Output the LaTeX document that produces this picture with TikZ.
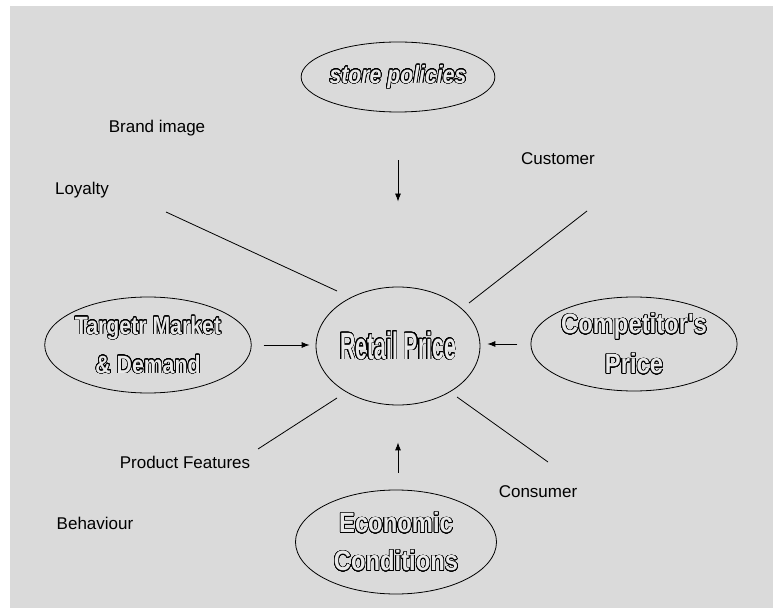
\documentclass[tikz,border=0pt]{standalone}
\usepackage{fontspec}
\setmainfont{Liberation Sans}
\newfontfamily\boxfont[FakeStretch=0.85]{Liberation Sans}
\newfontfamily\pricefont[FakeStretch=0.56]{Liberation Sans}
\usepackage{contour}
\contourlength{0.65pt}
\contournumber{32}
\usetikzlibrary{arrows.meta,shapes.geometric}
\definecolor{bggray}{RGB}{218,218,218}
\definecolor{fillgray}{RGB}{232,232,232}
\newcommand{\hollow}[1]{\contour{black}{\textcolor{fillgray}{#1}}}

\begin{document}
\begin{tikzpicture}[x=1pt, y=1pt, font=\fontsize{17}{20}\selectfont]
\tikzset{factor/.style={draw, ellipse, line width=0.8pt, inner sep=0pt, align=center}}
\tikzset{link/.style={line width=0.8pt}}
\tikzset{>={Latex[width=6pt,length=8pt]}}
\useasboundingbox (0,0) rectangle (776,608);
\fill[bggray] (10,0) rectangle (773,602);
\node[factor, minimum width=190pt, minimum height=70pt, font=\boxfont\bfseries\itshape\fontsize{25}{30}\selectfont] (store) at (398,531) {\hollow{store policies}};
\node[factor, minimum width=127pt, minimum height=118pt, font=\pricefont\bfseries\fontsize{38}{44}\selectfont] (retail) at (398,262) {\hollow{Retail Price}};
\node[factor, minimum width=200pt, minimum height=96pt, font=\boxfont\bfseries\fontsize{25}{39}\selectfont] (target) at (148,263) {\hollow{Targetr Market}\\ \hollow{\& Demand}};
\node[factor, minimum width=198pt, minimum height=94pt, font=\boxfont\bfseries\fontsize{28}{40}\selectfont] (comp) at (634,264) {\hollow{Competitor's}\\ \hollow{Price}};
\node[factor, minimum width=201pt, minimum height=104pt, font=\boxfont\bfseries\fontsize{28}{38}\selectfont] (econ) at (396,66) {\hollow{Economic}\\ \hollow{Conditions}};
\node (brand) at (157,480) {Brand image};
\node (loyal) at (82,418) {Loyalty};
\node (cust) at (558,449) {Customer};
\node (prodf) at (185,146) {Product Features};
\node (behav) at (95,85) {Behaviour};
\node (cons) at (538,116) {Consumer};
\path[->, link, shorten <=48pt, shorten >=85pt] (store.south) edge (retail.north);
\path[->, link, shorten <=17pt, shorten >=37pt] (retail.south |- econ.north) edge (retail.south);
\path[->, link, shorten <=12pt, shorten >=6pt] (target.east) edge (target.east -| retail.west);
\path[->, link, shorten <=13pt, shorten >=7pt] (comp.west) edge (comp.west -| retail.east);
\coordinate (loyA) at (166,396);
\coordinate (loyB) at (337,317);
\coordinate (custA) at (587,397);
\coordinate (custB) at (469,305);
\coordinate (prodA) at (258,159);
\coordinate (prodB) at (337,210);
\coordinate (consA) at (548,146);
\coordinate (consB) at (457,211);
\draw[link] (loyA) -- (loyB);
\draw[link] (custA) -- (custB);
\draw[link] (prodA) -- (prodB);
\draw[link] (consA) -- (consB);
\end{tikzpicture}
\end{document}
